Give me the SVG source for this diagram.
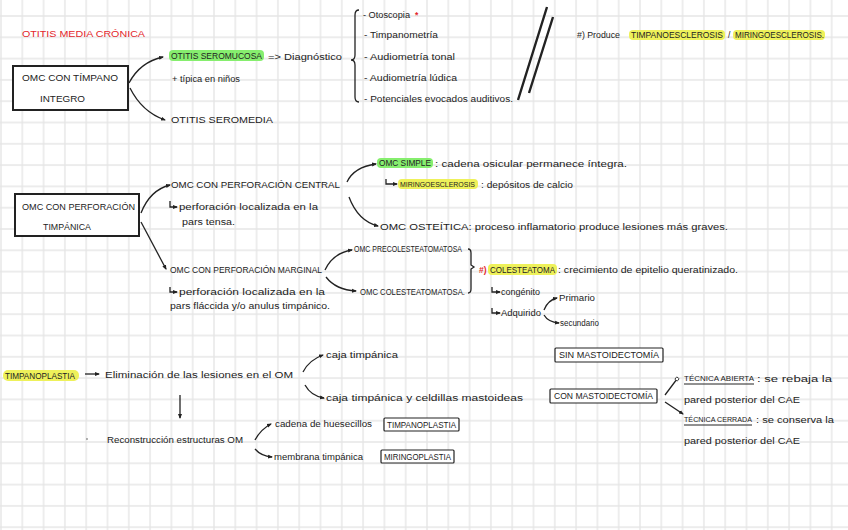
<svg xmlns="http://www.w3.org/2000/svg" width="848" height="530" viewBox="0 0 848 530">
<defs>
<pattern id="grid" patternUnits="userSpaceOnUse" x="-9.65" y="5.35" width="21.3" height="21.3">
<path d="M10.65,0 V21.3 M0,10.65 H21.3" stroke="#e6e6e6" stroke-width="1.4" fill="none"/>
</pattern>
<marker id="ah" viewBox="0 0 10 10" refX="8" refY="5" markerWidth="5" markerHeight="5" orient="auto" markerUnits="userSpaceOnUse"><path d="M0,1 L10,5 L0,9 z" fill="#222"/></marker>
<marker id="oc" viewBox="0 0 10 10" refX="5" refY="5" markerWidth="5" markerHeight="5" orient="auto" markerUnits="userSpaceOnUse"><circle cx="5" cy="5" r="3.5" fill="#fff" stroke="#222" stroke-width="1.6"/></marker>
<style>
text{font-family:"Liberation Sans",Arial,sans-serif;font-size:8.5px;fill:#222}
.cap{font-size:8.5px}
.sm{font-size:7.5px}
.red{fill:#e3262b}
.hg{fill:#86ee6e}
.hy{fill:#eef15a}
.box{fill:#fff;stroke:#222;stroke-width:2}
.sbox{fill:#fff;stroke:#222;stroke-width:1.2}
.con{fill:none;stroke:#222;stroke-width:1.3}
.ar{marker-end:url(#ah)}
</style>
</defs>
<rect width="848" height="530" fill="#fff"/>
<rect width="848" height="530" fill="url(#grid)"/>

<g id="connectors">
<path class="con ar" d="M129,83 Q140,62 163,57"/>
<path class="con ar" d="M130,88 Q142,112 165,120"/>
<path class="con" d="M359,10 Q355,10 355,15 L355,55 Q355,60 351,60 Q355,60 355,65 L355,97 Q355,102 359,102"/>
<path fill="none" stroke="#222" stroke-width="2.4" d="M518,100 L547,7 M529,93 L553,17"/>
<path class="con ar" d="M141,213 Q150,190 170,185"/>
<path class="con ar" d="M141,222 L166,269"/>
<path class="con ar" d="M170,201 L170,207 L177,207"/>
<path class="con ar" d="M347,182 Q354,167 376,164"/>
<path class="con ar" d="M349,197 Q358,221 378,226"/>
<path class="con ar" d="M386,179 L386,184 L397,184"/>
<path class="con ar" d="M170,287 L170,292 L177,292"/>
<path class="con ar" d="M325,270 Q333,253 352,250"/>
<path class="con ar" d="M326,277 Q336,290 356,291"/>
<path class="con" d="M468,249 Q471,249 471,253 L471,265 L474,267 L471,269 L471,289 Q471,293 468,293"/>
<path class="con ar" d="M492,287 L492,292 L500,292"/>
<path class="con ar" d="M492,308 L492,313 L500,313"/>
<path class="con ar" d="M544,310 Q548,300 557,298"/>
<path class="con ar" d="M544,315 Q548,322 559,323"/>
<path class="con ar" d="M85,374 L99,374"/>
<path class="con ar" d="M180,395 L180,418"/>
<path class="con ar" d="M303,372 Q309,360 323,355"/>
<path class="con ar" d="M305,385 Q311,396 324,398"/>
<path class="con ar" d="M255,440 Q261,429 271,424"/>
<path class="con ar" d="M255,449 Q261,456 272,457"/>
<path class="con" marker-end="url(#oc)" d="M665,395 L677,379"/>
<path class="con ar" d="M665,402 L683,414"/>
</g>

<g id="title"><text class="cap red" x="22" y="37" textLength="123" lengthAdjust="spacingAndGlyphs">OTITIS MEDIA CRÓNICA</text></g>

<g id="node-omc-timpano">
<rect class="box" x="13" y="66" width="115" height="44"/>
<text class="cap" x="22" y="81" textLength="96" lengthAdjust="spacingAndGlyphs">OMC CON TÍMPANO</text>
<text class="cap" x="40" y="102" textLength="45" lengthAdjust="spacingAndGlyphs">INTEGRO</text>
</g>

<g id="node-seromucosa">
<rect class="hg" x="169" y="50" width="95" height="11" rx="4"/>
<text class="cap" x="171" y="59" textLength="91" lengthAdjust="spacingAndGlyphs">OTITIS SEROMUCOSA</text>
<text x="268" y="60" textLength="74" lengthAdjust="spacingAndGlyphs">=&gt; Diagnóstico</text>
<text x="172" y="82" textLength="68" lengthAdjust="spacingAndGlyphs">+ típica en niños</text>
</g>

<g id="node-otitis-2"><text class="cap" x="171" y="123" textLength="102" lengthAdjust="spacingAndGlyphs">OTITIS SEROMEDIA</text></g>

<g id="node-diagnostico">
<text x="363" y="18" textLength="47" lengthAdjust="spacingAndGlyphs">- Otoscopia</text>
<text class="red" x="415" y="18" font-weight="bold">*</text>
<text x="364" y="38" textLength="74" lengthAdjust="spacingAndGlyphs">- Timpanometría</text>
<text x="364" y="60" textLength="91" lengthAdjust="spacingAndGlyphs">- Audiometría tonal</text>
<text x="364" y="81" textLength="93" lengthAdjust="spacingAndGlyphs">- Audiometría lúdica</text>
<text x="364" y="102" textLength="149" lengthAdjust="spacingAndGlyphs">- Potenciales evocados auditivos.</text>
</g>

<g id="node-produce">
<rect class="hy" x="629" y="30" width="96" height="10" rx="4"/>
<rect class="hy" x="733" y="30" width="92" height="10" rx="4"/>
<text x="577" y="38" textLength="43" lengthAdjust="spacingAndGlyphs">#) Produce</text>
<text class="cap" x="631" y="38" textLength="92" lengthAdjust="spacingAndGlyphs">TIMPANOESCLEROSIS</text>
<text x="728" y="38">/</text>
<text class="cap" x="735" y="38" textLength="89" lengthAdjust="spacingAndGlyphs">MIRINGOESCLEROSIS.</text>
</g>

<g id="node-omc-perforacion">
<rect class="box" x="15" y="194" width="124" height="42"/>
<text class="cap" x="22" y="210" textLength="113" lengthAdjust="spacingAndGlyphs">OMC CON PERFORACIÓN</text>
<text class="cap" x="43" y="230" textLength="48" lengthAdjust="spacingAndGlyphs">TIMPÁNICA</text>
</g>

<g id="node-central">
<text class="cap" x="171" y="188" textLength="169" lengthAdjust="spacingAndGlyphs">OMC CON PERFORACIÓN CENTRAL</text>
<text x="179" y="210" textLength="139" lengthAdjust="spacingAndGlyphs">perforación localizada en la</text>
<text x="182" y="225" textLength="53" lengthAdjust="spacingAndGlyphs">pars tensa.</text>
</g>

<g id="node-simple">
<rect class="hg" x="377" y="158" width="56" height="10" rx="4"/>
<text class="cap" x="379" y="166" textLength="52" lengthAdjust="spacingAndGlyphs">OMC SIMPLE</text>
<text x="435" y="167" textLength="192" lengthAdjust="spacingAndGlyphs">: cadena osicular permanece íntegra.</text>
<rect class="hy" x="398" y="179" width="80" height="10" rx="4"/>
<text class="sm" x="400" y="187" textLength="75" lengthAdjust="spacingAndGlyphs">MIRINGOESCLEROSIS</text>
<text x="481" y="188" textLength="92" lengthAdjust="spacingAndGlyphs">: depósitos de calcio</text>
</g>

<g id="node-osteitica"><text x="380" y="230" textLength="348" lengthAdjust="spacingAndGlyphs">OMC OSTEÍTICA: proceso inflamatorio produce lesiones más graves.</text></g>

<g id="node-marginal">
<text class="cap" x="170" y="273" textLength="152" lengthAdjust="spacingAndGlyphs">OMC CON PERFORACIÓN MARGINAL</text>
<text x="179" y="295" textLength="146" lengthAdjust="spacingAndGlyphs">perforación localizada en la</text>
<text x="170" y="309" textLength="160" lengthAdjust="spacingAndGlyphs">pars fláccida y/o anulus timpánico.</text>
</g>

<g id="node-precolesteatomatosa"><text class="cap" x="354" y="252" textLength="108" lengthAdjust="spacingAndGlyphs">OMC PRECOLESTEATOMATOSA</text></g>
<g id="node-colesteatomatosa"><text class="cap" x="360" y="295" textLength="105" lengthAdjust="spacingAndGlyphs">OMC COLESTEATOMATOSA.</text></g>

<g id="node-colesteatoma">
<rect class="hy" x="488" y="264" width="69" height="11" rx="4"/>
<text class="red" x="479" y="273" font-weight="bold">#)</text>
<text class="cap" x="490" y="273" textLength="65" lengthAdjust="spacingAndGlyphs">COLESTEATOMA</text>
<text x="558" y="273" textLength="180" lengthAdjust="spacingAndGlyphs">: crecimiento de epitelio queratinizado.</text>
<text x="501" y="295" textLength="39" lengthAdjust="spacingAndGlyphs">congénito</text>
<text x="501" y="316" textLength="40" lengthAdjust="spacingAndGlyphs">Adquirido</text>
<text x="559" y="301" textLength="36" lengthAdjust="spacingAndGlyphs">Primario</text>
<text x="560" y="326" textLength="39" lengthAdjust="spacingAndGlyphs">secundario</text>
</g>

<g id="node-timpanoplastia">
<rect class="hy" x="3" y="370" width="76" height="11" rx="5"/>
<text class="cap" x="5" y="379" textLength="70" lengthAdjust="spacingAndGlyphs">TIMPANOPLASTIA</text>
<text x="105" y="378" textLength="188" lengthAdjust="spacingAndGlyphs">Eliminación de las lesiones en el OM</text>
</g>

<g id="node-caja">
<text x="326" y="358" textLength="72" lengthAdjust="spacingAndGlyphs">caja timpánica</text>
<text x="326" y="401" textLength="197" lengthAdjust="spacingAndGlyphs">caja timpánica y celdillas mastoideas</text>
</g>

<g id="node-reconstruccion">
<circle cx="87" cy="439" r="0.8" fill="#555"/>
<text x="107" y="443" textLength="136" lengthAdjust="spacingAndGlyphs">Reconstrucción estructuras OM</text>
</g>

<g id="node-cadena">
<text x="275" y="427" textLength="97" lengthAdjust="spacingAndGlyphs">cadena de huesecillos</text>
<rect class="sbox" x="384" y="418" width="75" height="13" rx="1"/>
<text class="cap" x="387" y="428" textLength="69" lengthAdjust="spacingAndGlyphs">TIMPANOPLASTIA</text>
</g>

<g id="node-membrana">
<text x="274" y="460" textLength="89" lengthAdjust="spacingAndGlyphs">membrana timpánica</text>
<rect class="sbox" x="381" y="450" width="73" height="13" rx="1"/>
<text class="cap" x="384" y="460" textLength="67" lengthAdjust="spacingAndGlyphs">MIRINGOPLASTIA</text>
</g>

<g id="node-sin-mastoidectomia">
<rect class="sbox" x="555" y="348" width="108" height="14" rx="1"/>
<text class="cap" x="559" y="358" textLength="100" lengthAdjust="spacingAndGlyphs">SIN MASTOIDECTOMÍA</text>
</g>

<g id="node-con-mastoidectomia">
<rect class="sbox" x="550" y="389" width="107" height="14" rx="1"/>
<text class="cap" x="554" y="399" textLength="99" lengthAdjust="spacingAndGlyphs">CON MASTOIDECTOMÍA</text>
</g>

<g id="node-tecnicas">
<text class="sm" x="684" y="381" textLength="70" lengthAdjust="spacingAndGlyphs">TÉCNICA ABIERTA</text>
<path d="M684,384 H754" stroke="#222" stroke-width="1"/>
<text x="757" y="382" textLength="75" lengthAdjust="spacingAndGlyphs">: se rebaja la</text>
<text x="684" y="403" textLength="116" lengthAdjust="spacingAndGlyphs">pared posterior del CAE</text>
<text class="sm" x="684" y="422" textLength="68" lengthAdjust="spacingAndGlyphs">TÉCNICA CERRADA</text>
<path d="M684,425 H752" stroke="#222" stroke-width="1"/>
<text x="756" y="423" textLength="78" lengthAdjust="spacingAndGlyphs">: se conserva la</text>
<text x="684" y="444" textLength="116" lengthAdjust="spacingAndGlyphs">pared posterior del CAE</text>
</g>
</svg>
